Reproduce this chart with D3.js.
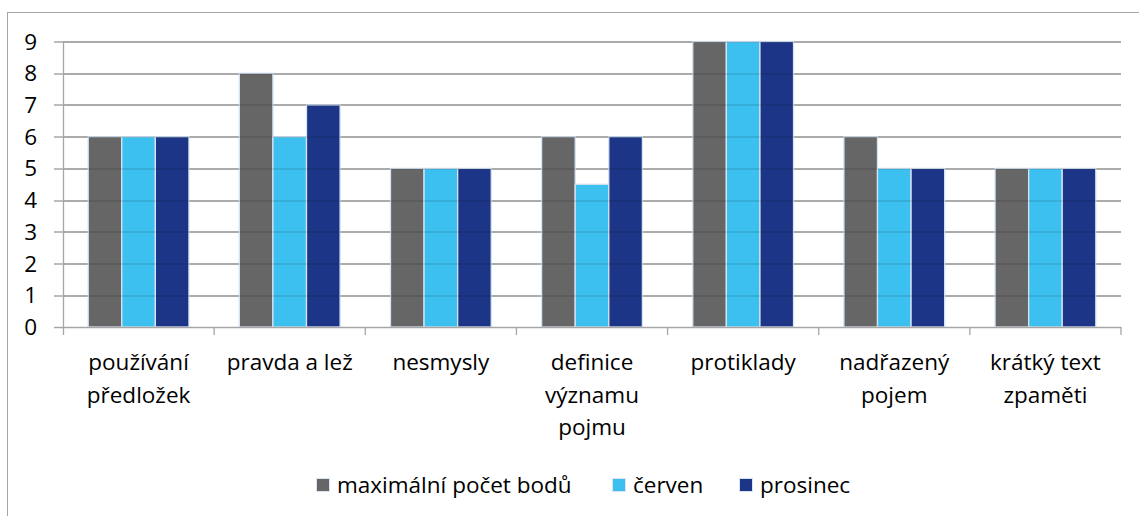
<!DOCTYPE html>
<html>
<head>
<meta charset="utf-8">
<script src="https://cdn.jsdelivr.net/npm/d3@7"></script>
<style>
  body { margin: 0; background: #fff; }
  svg text { font-family: "Open Sans", Lato, sans-serif; fill: #000; }
</style>
</head>
<body>
<svg id="chart" width="1139" height="516"></svg>
<script>
// categories (each label split into lines)
var categories = [
  ["používání", "předložek"],
  ["pravda a lež"],
  ["nesmysly"],
  ["definice", "významu", "pojmu"],
  ["protiklady"],
  ["nadřazený", "pojem"],
  ["krátký text", "zpaměti"]
];
var seriesNames = ["maximální počet bodů", "červen", "prosinec"];
var maxBody = [6, 8, 5, 6, 9, 6, 5];
var cerven = [6, 6, 5, 4.5, 9, 5, 5];
var prosinec = [6, 7, 5, 6, 9, 5, 5];
var yTicks = [0, 1, 2, 3, 4, 5, 6, 7, 8, 9];
var colors = ["#666666", "#3bc0ef", "#1c3587"];

var seriesValues = [maxBody, cerven, prosinec];
var svg = d3.select("#chart");

var margin = {top: 41.5, left: 63, right: 18, bottom: 189},
    width = 1139 - margin.left - margin.right,
    height = 516 - margin.top - margin.bottom;

// outer border
svg.append("rect")
  .attr("x", 7.5).attr("y", 12.5)
  .attr("width", 1140).attr("height", 510)
  .attr("fill", "none").attr("stroke", "#a6a6a6");

var g = svg.append("g")
  .attr("transform", "translate(" + margin.left + "," + margin.top + ")");

var x = d3.scaleBand().domain(d3.range(categories.length)).range([0, width]);
var bw = x.bandwidth() / 4.5;
var y = d3.scaleLinear().domain([0, 9]).range([height, 0]);

// gridlines
g.append("g").selectAll("line").data(yTicks.slice(1)).enter().append("line")
  .attr("x1", -9).attr("x2", width)
  .attr("y1", function(d) { return Math.round(y(d)) + 0.5; })
  .attr("y2", function(d) { return Math.round(y(d)) + 0.5; })
  .attr("stroke", "#a6a6a6").attr("stroke-width", 1.3);

// bars
var groups = g.selectAll(".grp").data(categories).enter().append("g")
  .attr("transform", function(d, i) { return "translate(" + x(i) + ",0)"; });
groups.selectAll("rect").data(function(d, i) {
    return seriesValues.map(function(s, k) { return {k: k, v: s[i]}; });
  }).enter().append("rect")
  .attr("x", function(d) { return 0.75 * bw + d.k * bw; })
  .attr("y", function(d) { return y(d.v); })
  .attr("width", bw)
  .attr("height", function(d) { return height - y(d.v); })
  .attr("fill", function(d) { return colors[d.k]; })
  .attr("stroke", "#d6e4f3").attr("stroke-width", 1.3);

// gridline shade over bars
g.append("g").selectAll("line").data(yTicks.slice(1)).enter().append("line")
  .attr("x1", 0).attr("x2", width)
  .attr("y1", function(d) { return Math.round(y(d)) + 0.5; })
  .attr("y2", function(d) { return Math.round(y(d)) + 0.5; })
  .attr("stroke", "#000").attr("stroke-opacity", 0.12).attr("stroke-width", 1.3);

// axes lines
g.append("line").attr("x1", 0.5).attr("x2", 0.5).attr("y1", 0).attr("y2", height + 8)
  .attr("stroke", "#a6a6a6").attr("stroke-width", 1.3);
g.append("line").attr("x1", -9).attr("x2", width).attr("y1", height + 0.5).attr("y2", height + 0.5)
  .attr("stroke", "#a6a6a6").attr("stroke-width", 1.3);
g.append("g").selectAll("line").data(d3.range(1, categories.length + 1)).enter().append("line")
  .attr("x1", function(i) { return x.step() * i; })
  .attr("x2", function(i) { return x.step() * i; })
  .attr("y1", height).attr("y2", height + 8)
  .attr("stroke", "#a6a6a6").attr("stroke-width", 1.3);

// y tick labels
g.append("g").selectAll("text").data(yTicks).enter().append("text")
  .attr("x", -26).attr("y", function(d) { return y(d); })
  .attr("dy", "0.36em").attr("text-anchor", "end")
  .style("font-size", "22.5px")
  .text(function(d) { return d; });

// category labels
groups.append("text")
  .attr("text-anchor", "middle")
  .style("font-size", "22.5px")
  .selectAll("tspan").data(function(d) { return d; }).enter().append("tspan")
  .attr("x", x.bandwidth() / 2)
  .attr("y", function(d, i) { return height + 43 + i * 32.5; })
  .text(function(d) { return d; });

// legend
var legendX = [316, 612, 739];
var legend = svg.append("g").selectAll("g").data(seriesNames).enter().append("g")
  .attr("transform", function(d, i) { return "translate(" + legendX[i] + ",485)"; });
legend.append("rect")
  .attr("x", 0.5).attr("y", -6.5).attr("width", 13).attr("height", 13)
  .attr("fill", function(d, i) { return colors[i]; })
  .attr("stroke", "#d6e4f3");
legend.append("text")
  .attr("x", 21).attr("dy", "0.36em")
  .style("font-size", "22.5px")
  .text(function(d) { return d; });
</script>
</body>
</html>
